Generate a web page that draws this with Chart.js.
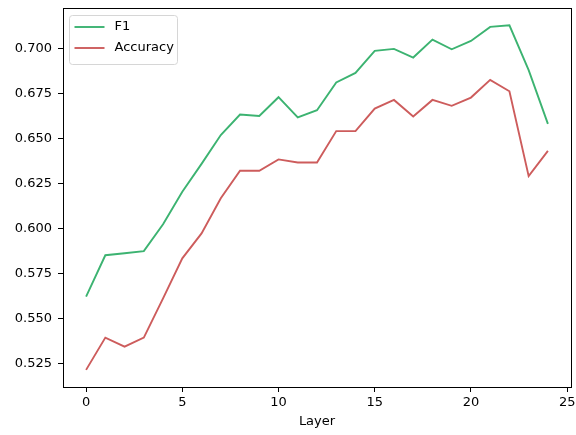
<!DOCTYPE html>
<html>
<head>
    <title>F1 / Accuracy por capa</title>
    <style>
        body {
            margin: 0;
            background-color: #ffffff;
        }

        #chart {
            display: block;
        }
    </style>
    <script src="https://cdn.jsdelivr.net/npm/chart.js"></script>
</head>
<body>
    <canvas id="chart" width="576" height="435"></canvas>

    <script>
        var layers = [0, 1, 2, 3, 4, 5, 6, 7, 8, 9, 10, 11, 12, 13, 14, 15, 16, 17, 18, 19, 20, 21, 22, 23, 24];
        var f1 = [0.5623, 0.5853, 0.5864, 0.5876, 0.6025, 0.6205, 0.6360, 0.6520, 0.6634, 0.6626,
                  0.6730, 0.6618, 0.6658, 0.6812, 0.6865, 0.6987, 0.6998, 0.6950, 0.7050, 0.6996,
                  0.7042, 0.7120, 0.7129, 0.6880, 0.6582];
        var accuracy = [0.5217, 0.5396, 0.5346, 0.5396, 0.5614, 0.5836, 0.5974, 0.6169, 0.6322, 0.6322,
                        0.6385, 0.6368, 0.6368, 0.6542, 0.6542, 0.6667, 0.6715, 0.6623, 0.6715, 0.6682,
                        0.6728, 0.6826, 0.6763, 0.6292, 0.6432];
        var xTicks = [0, 5, 10, 15, 20, 25];
        var yTicks = [0.525, 0.550, 0.575, 0.600, 0.625, 0.650, 0.675, 0.700];

        var seriesNames = ['F1', 'Accuracy'];
        var seriesColors = ['#3cb371', '#cd5c5c'];

        function toPoints(values) {
            return layers.map(function (l, i) { return { x: l, y: values[i] }; });
        }

        // marco completo (4 lados) + leyenda estilo matplotlib
        var framePlugin = {
            id: 'frame',
            afterDraw: function (chart) {
                var ctx = chart.ctx;
                var a = chart.chartArea;
                ctx.save();
                ctx.strokeStyle = '#000';
                ctx.lineWidth = 1;
                ctx.strokeRect(Math.round(a.left) + 0.5, Math.round(a.top) + 0.5,
                    Math.round(a.right - a.left), Math.round(a.bottom - a.top));

                // leyenda
                var bx = a.left + 6.5, by = a.top + 7.5, bw = 108, bh = 49;
                ctx.beginPath();
                ctx.roundRect(bx, by, bw, bh, 3);
                ctx.fillStyle = 'rgba(255,255,255,0.8)';
                ctx.fill();
                ctx.strokeStyle = '#d6d6d6';
                ctx.stroke();

                ctx.font = '13px "DejaVu Sans"';
                ctx.textBaseline = 'middle';
                ctx.textAlign = 'left';
                chart.data.datasets.forEach(function (ds, i) {
                    var y = a.top + 19 + i * 21;
                    ctx.beginPath();
                    ctx.moveTo(a.left + 11.5, y);
                    ctx.lineTo(a.left + 41.5, y);
                    ctx.strokeStyle = ds.borderColor;
                    ctx.lineWidth = 1.9;
                    ctx.stroke();
                    ctx.fillStyle = '#000';
                    ctx.fillText(ds.label, a.left + 51.5, y);
                });
                ctx.restore();
            }
        };

        Chart.defaults.font.family = '"DejaVu Sans", sans-serif';
        Chart.defaults.font.size = 13;
        Chart.defaults.color = '#000';

        new Chart(document.getElementById('chart'), {
            type: 'line',
            data: {
                datasets: [
                    { label: seriesNames[0], data: toPoints(f1), borderColor: seriesColors[0] },
                    { label: seriesNames[1], data: toPoints(accuracy), borderColor: seriesColors[1] }
                ]
            },
            options: {
                responsive: false,
                animation: false,
                devicePixelRatio: 1,
                layout: { padding: { left: 0, top: 8, right: 5, bottom: 0 } },
                elements: {
                    line: { borderWidth: 1.9, tension: 0, fill: false },
                    point: { radius: 0 }
                },
                plugins: {
                    legend: { display: false },
                    tooltip: { enabled: false }
                },
                scales: {
                    x: {
                        type: 'linear',
                        min: -1.2,
                        max: 25.2,
                        afterBuildTicks: function (s) { s.ticks = xTicks.map(function (v) { return { value: v }; }); },
                        afterFit: function (s) { s.height = 48; s.paddingLeft = 0; s.paddingRight = 0; },
                        grid: { drawOnChartArea: false, drawTicks: true, tickLength: 5, color: '#000' },
                        border: { display: false },
                        ticks: { padding: 3, maxRotation: 0, callback: function (v) { return v; } },
                        title: { display: true, text: 'Layer', padding: { top: 2, bottom: 6 } }
                    },
                    y: {
                        min: 0.5122,
                        max: 0.7225,
                        afterBuildTicks: function (s) { s.ticks = yTicks.map(function (v) { return { value: v }; }); },
                        afterFit: function (s) { s.width = 63; s.paddingTop = 0; s.paddingBottom = 0; },
                        grid: { drawOnChartArea: false, drawTicks: true, tickLength: 5, color: '#000' },
                        border: { display: false },
                        ticks: { padding: 6, callback: function (v) { return v.toFixed(3); } }
                    }
                }
            },
            plugins: [framePlugin]
        });
    </script>
</body>
</html>
